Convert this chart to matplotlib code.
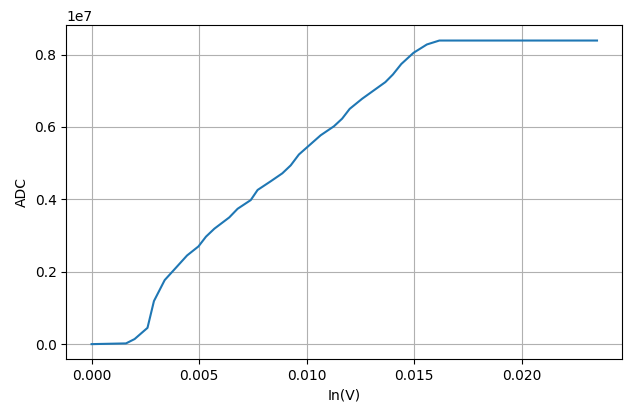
import numpy as np
import matplotlib.pyplot as plt

volts = [0.0, 0.0016, 0.0020, 0.0026, 0.0029, 0.0034, 0.00386, 0.00444, 0.00497,
         0.00532, 0.00571, 0.0064, 0.00679, 0.0074, 0.00772, 0.00833, 0.00887,
         0.00926, 0.00964, 0.01065, 0.01127, 0.01165, 0.0120, 0.01258, 0.01366,
         0.01401, 0.01440, 0.01497, 0.01559, 0.01617, 0.0235]
adc = [0.0, 2.0e4, 1.4e5, 4.5e5, 1.19e6, 1.77e6, 2.07e6, 2.45e6, 2.70e6,
       2.97e6, 3.19e6, 3.50e6, 3.74e6, 3.98e6, 4.26e6, 4.50e6, 4.72e6,
       4.94e6, 5.24e6, 5.77e6, 6.02e6, 6.23e6, 6.50e6, 6.78e6, 7.24e6,
       7.45e6, 7.74e6, 8.05e6, 8.28e6, 8388607, 8388607]

plt.figure(figsize=(6.4, 4.09))
plt.plot(volts, adc)
plt.xlabel('In(V)')
plt.ylabel('ADC')
plt.ticklabel_format(axis='y', style='sci', scilimits=(7, 7))
plt.grid()
plt.subplots_adjust(left=0.1036, right=0.9723, top=0.938, bottom=0.1215)
plt.savefig('out.png')
